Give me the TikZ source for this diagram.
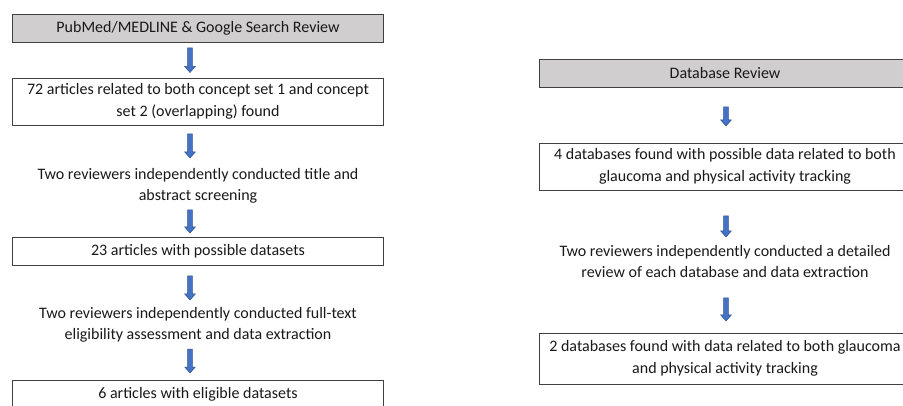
\documentclass[tikz,border=0pt]{standalone}
\usepackage{fontspec}
\setmainfont{Carlito}
\usetikzlibrary{calc}
\definecolor{boxgray}{RGB}{208,206,206}
\definecolor{boxedge}{RGB}{64,64,64}
\definecolor{arrowfill}{RGB}{68,114,196}
\definecolor{arrowedge}{RGB}{47,82,143}
\tikzset{
  every node/.style={font=\fontsize{16}{21.5}\selectfont, text=black!90},
  flowbox/.style={draw=boxedge, line width=0.8pt, fill=white, minimum width=371pt, align=center, inner sep=0pt},
  headbox/.style={flowbox, fill=boxgray, minimum height=28pt},
  onebox/.style={flowbox, minimum height=28pt},
  twobox/.style={flowbox, minimum height=47pt},
  plaintext/.style={align=center, inner sep=0pt},
  blockarrow/.style={fill=arrowfill, draw=arrowedge, line width=0.5pt,
    to path={let \p1=(\tikztostart), \p2=(\tikztotarget) in
      (\x1-2.4pt,\y1) -- (\x1+2.4pt,\y1) -- (\x1+2.4pt,\y2+6pt) -- (\x1+5.3pt,\y2+6pt)
      -- (\x1,\y2) -- (\x1-5.3pt,\y2+6pt) -- (\x1-2.4pt,\y2+6pt) -- cycle}}
}
\begin{document}
\begin{tikzpicture}[x=1pt,y=-1pt]
\useasboundingbox (0,0) rectangle (903,406);
\clip (0,0) rectangle (903,406);
% left column
\node[headbox] (l1) at (198,28) {PubMed/MEDLINE \& Google Search Review};
\node[twobox] (l2) at (198,101.5) {72 articles related to both concept set 1 and concept\\set 2 (overlapping) found};
\node[plaintext] (l3) at (198,186) {Two reviewers independently conducted title and\\abstract screening};
\node[onebox] (l4) at (198,251) {23 articles with possible datasets};
\node[plaintext] (l5) at (198,325) {Two reviewers independently conducted full-text\\eligibility assessment and data extraction};
\node[onebox] (l6) at (198,394) {6 articles with eligible datasets};
\coordinate (a1s) at (190,48); \coordinate (a1e) at (190,72.5);
\coordinate (a2s) at (190,134); \coordinate (a2e) at (190,158);
\coordinate (a3s) at (190,210); \coordinate (a3e) at (190,233);
\coordinate (a4s) at (190,276); \coordinate (a4e) at (190,300);
\coordinate (a5s) at (190,349); \coordinate (a5e) at (190,373);
\draw[blockarrow] (a1s) to (a1e);
\draw[blockarrow] (a2s) to (a2e);
\draw[blockarrow] (a3s) to (a3e);
\draw[blockarrow] (a4s) to (a4e);
\draw[blockarrow] (a5s) to (a5e);
% right column
\node[headbox] (r1) at (725,73) {Database Review};
\node[twobox] (r2) at (725,166.5) {4 databases found with possible data related to both\\glaucoma and physical activity tracking};
\node[plaintext] (r3) at (725,261.5) {Two reviewers independently conducted a detailed\\review of each database and data extraction};
\node[flowbox, minimum height=51pt] (r4) at (725,358.5) {2 databases found with data related to both glaucoma\\and physical activity tracking};
\coordinate (b1s) at (726,107); \coordinate (b1e) at (726,126);
\coordinate (b2s) at (726,216); \coordinate (b2e) at (726,237);
\coordinate (b3s) at (726,298); \coordinate (b3e) at (726,321);
\draw[blockarrow] (b1s) to (b1e);
\draw[blockarrow] (b2s) to (b2e);
\draw[blockarrow] (b3s) to (b3e);
\end{tikzpicture}
\end{document}
